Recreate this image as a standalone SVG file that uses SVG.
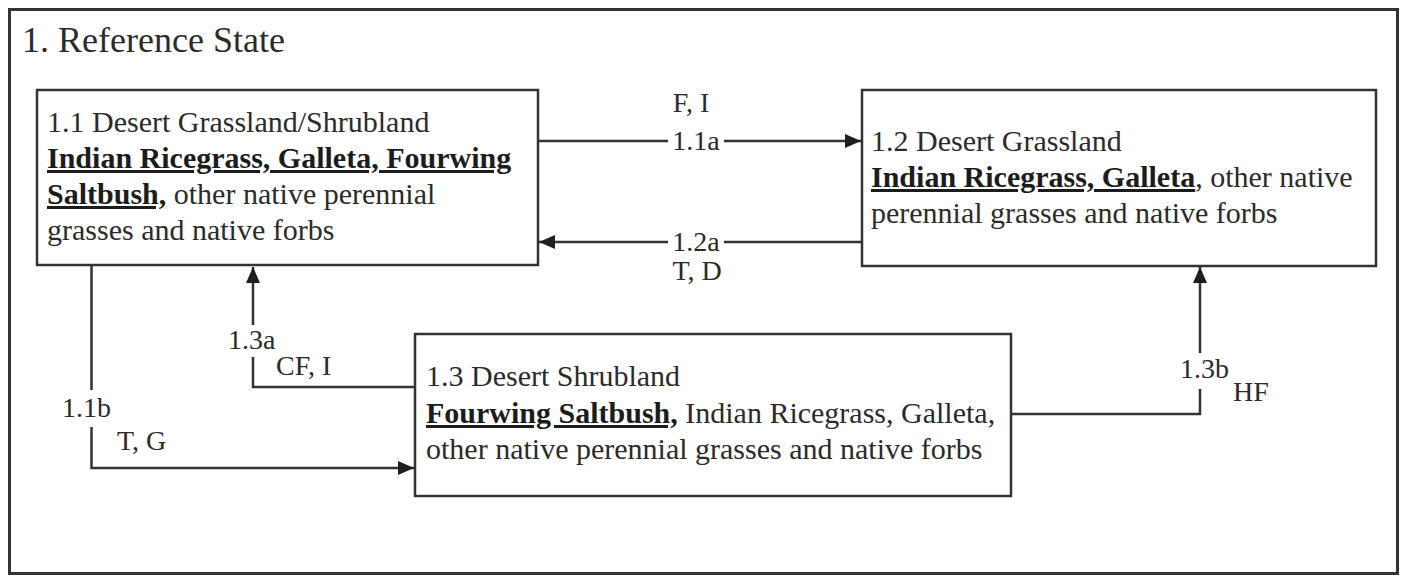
<svg xmlns="http://www.w3.org/2000/svg" width="1406" height="577" viewBox="0 0 1406 577">
<style>
text { font-family: "Liberation Serif", "Times New Roman", serif; fill: #2b2b2b; }
.t { font-size: 30px; }
.title { font-size: 36px; }
.lbl { font-size: 28px; }
.b { font-weight: bold; text-decoration: underline; fill: #1c1c1c; }
.frame { fill: #fff; stroke: #333; stroke-width: 3; }
.box { fill: #fff; stroke: #333; stroke-width: 2.5; }
.edge { fill: none; stroke: #333; stroke-width: 2.5; }
</style>
<defs>
<marker id="ah" markerUnits="userSpaceOnUse" markerWidth="18" markerHeight="14" refX="16" refY="7" orient="auto">
<path d="M0,0 L16,7 L0,14 Z" fill="#1e1e1e"/>
</marker>
</defs>
<rect width="1406" height="577" fill="#fff"/>
<g id="frame">
<rect class="frame" x="9.5" y="9.5" width="1388" height="564"/>
<text class="title" x="22" y="52">1. Reference State</text>
</g>
<g id="connectors">
<path class="edge" d="M538,141 H668 M724,141 H861" marker-end="url(#ah)"/>
<path class="edge" d="M862,242 H724 M668,242 H539" marker-end="url(#ah)"/>
<path class="edge" d="M415,387 H253 V357 M253,325 V267" marker-end="url(#ah)"/>
<path class="edge" d="M91.5,266 V390 M91.5,427 V468 H414" marker-end="url(#ah)"/>
<path class="edge" d="M1011,414 H1200 V389 M1200,353 V267" marker-end="url(#ah)"/>
<text class="lbl" x="691" y="112" text-anchor="middle">F, I</text>
<text class="lbl" x="696" y="150" text-anchor="middle">1.1a</text>
<text class="lbl" x="696" y="251" text-anchor="middle">1.2a</text>
<text class="lbl" x="697" y="280" text-anchor="middle">T, D</text>
<text class="lbl" x="228" y="349">1.3a</text>
<text class="lbl" x="276" y="375">CF, I</text>
<text class="lbl" x="62" y="417">1.1b</text>
<text class="lbl" x="117" y="450">T, G</text>
<text class="lbl" x="1180" y="378">1.3b</text>
<text class="lbl" x="1233" y="401">HF</text>
</g>
<g id="node-1-1">
<rect class="box" x="37" y="90" width="501" height="175"/>
<text class="t" x="47" y="132">1.1 Desert Grassland/Shrubland</text>
<text class="t" x="47" y="168"><tspan class="b">Indian Ricegrass, Galleta, Fourwing</tspan></text>
<text class="t" x="47" y="204"><tspan class="b">Saltbush,</tspan> other native perennial</text>
<text class="t" x="47" y="240">grasses and native forbs</text>
</g>
<g id="node-1-2">
<rect class="box" x="862" y="90" width="514" height="176"/>
<text class="t" x="871" y="151">1.2 Desert Grassland</text>
<text class="t" x="871" y="187"><tspan class="b">Indian Ricegrass, Galleta</tspan>, other native</text>
<text class="t" x="871" y="223">perennial grasses and native forbs</text>
</g>
<g id="node-1-3">
<rect class="box" x="415" y="334" width="596" height="162"/>
<text class="t" x="426" y="386">1.3 Desert Shrubland</text>
<text class="t" x="426" y="423"><tspan class="b">Fourwing Saltbush,</tspan> Indian Ricegrass, Galleta,</text>
<text class="t" x="426" y="459">other native perennial grasses and native forbs</text>
</g>
</svg>
